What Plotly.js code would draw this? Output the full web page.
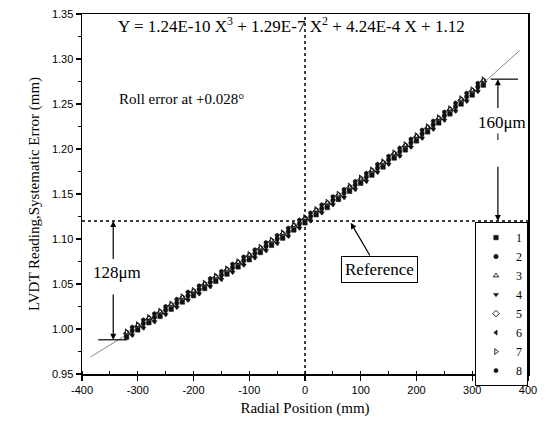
<!DOCTYPE html>
<html>
<head>
<meta charset="utf-8">
<script src="https://cdn.plot.ly/plotly-3.0.1.min.js"></script>
<style>html,body{margin:0;padding:0;background:#fff;}#chart{width:546px;height:432px;}</style>
</head>
<body>
<div id="chart"></div>
<script>
// Radial positions (mm): odd runs and even runs were sampled at interleaved positions
const radialPosA = [-320,-300,-280,-260,-240,-220,-200,-180,-160,-140,-120,-100,-80,-60,-40,-20,0,20,40,60,80,100,120,140,160,180,200,220,240,260,280,300,320];
const radialPosB = [-310,-290,-270,-250,-230,-210,-190,-170,-150,-130,-110,-90,-70,-50,-30,-10,10,30,50,70,90,110,130,150,170,190,210,230,250,270,290,310];

// LVDT readings (mm) for runs 1..8
const run1 = [0.991,0.999,1.007,1.014,1.022,1.030,1.037,1.045,1.053,1.061,1.069,1.077,1.085,1.093,1.101,1.110,1.118,1.127,1.135,1.144,1.153,1.162,1.171,1.180,1.190,1.199,1.209,1.219,1.229,1.239,1.250,1.260,1.271];
const run2 = [0.998,1.006,1.013,1.021,1.029,1.037,1.044,1.052,1.060,1.068,1.076,1.084,1.092,1.100,1.108,1.117,1.125,1.134,1.143,1.151,1.160,1.169,1.179,1.188,1.197,1.207,1.217,1.227,1.237,1.247,1.258,1.269];
const run3 = [0.996,1.004,1.012,1.019,1.027,1.035,1.042,1.050,1.058,1.066,1.074,1.082,1.090,1.098,1.106,1.115,1.123,1.132,1.140,1.149,1.157,1.166,1.176,1.185,1.195,1.204,1.214,1.224,1.234,1.244,1.255,1.265,1.276];
const run4 = [0.993,1.001,1.008,1.016,1.024,1.032,1.039,1.047,1.055,1.063,1.071,1.079,1.087,1.095,1.103,1.112,1.120,1.129,1.138,1.146,1.155,1.164,1.174,1.183,1.192,1.202,1.212,1.222,1.232,1.242,1.253,1.264];
const run5 = [0.995,1.003,1.011,1.018,1.026,1.034,1.041,1.049,1.057,1.065,1.073,1.081,1.089,1.097,1.105,1.114,1.122,1.131,1.139,1.148,1.157,1.166,1.175,1.184,1.194,1.203,1.213,1.223,1.233,1.243,1.254,1.264,1.275];
const run6 = [0.994,1.002,1.009,1.017,1.025,1.033,1.040,1.048,1.056,1.064,1.072,1.080,1.088,1.096,1.104,1.113,1.121,1.130,1.139,1.147,1.156,1.165,1.175,1.184,1.193,1.203,1.213,1.223,1.233,1.243,1.254,1.265];
const run7 = [0.997,1.005,1.013,1.020,1.028,1.036,1.043,1.051,1.059,1.067,1.075,1.083,1.091,1.099,1.107,1.116,1.124,1.133,1.141,1.150,1.159,1.168,1.177,1.186,1.196,1.205,1.215,1.225,1.235,1.245,1.256,1.266,1.277];
const run8 = [1.002,1.010,1.017,1.025,1.033,1.041,1.048,1.056,1.064,1.072,1.080,1.088,1.096,1.104,1.112,1.121,1.129,1.138,1.147,1.155,1.164,1.173,1.183,1.192,1.201,1.211,1.221,1.231,1.241,1.251,1.262,1.273];

const runNames = ["1","2","3","4","5","6","7","8"];
const runSymbols = ["square","circle","triangle-up-open","triangle-down","diamond-open","triangle-left","triangle-right-open","hexagon"];

// Fitted polynomial curve points (mm)
const fitX = [-385,-300,-200,-100,0,100,200,300,385];
const fitY = [0.9688,1.0011,1.0394,1.0788,1.1200,1.1638,1.2110,1.2622,1.3094];

const xTicks = [-400,-300,-200,-100,0,100,200,300,400];
const yTicks = [0.95,1.00,1.05,1.10,1.15,1.20,1.25,1.30,1.35];

const serif = "Liberation Serif, Times New Roman, serif";
const sans = "Liberation Sans, Arial, sans-serif";

const runs = [run1,run2,run3,run4,run5,run6,run7,run8];
const runPos = [radialPosA,radialPosB,radialPosA,radialPosB,radialPosA,radialPosB,radialPosA,radialPosB];
const traces = [{
  x: fitX, y: fitY, mode: "lines", showlegend: false, hoverinfo: "skip",
  line: {color: "#888", width: 1}
}];
runs.forEach((r, i) => {
  const open = runSymbols[i].indexOf("open") >= 0;
  traces.push({
    x: runPos[i], y: r, name: runNames[i], mode: "markers", type: "scatter",
    marker: {symbol: runSymbols[i], size: open ? 5 : 4.5, color: "#111", line: {color: "#111", width: open ? 0.9 : 0.5}}
  });
});

const refY = 1.12;
const layout = {
  width: 546, height: 432,
  margin: {l: 82, r: 18, t: 14, b: 58},
  paper_bgcolor: "#fff", plot_bgcolor: "#fff",
  showlegend: true,
  legend: {
    x: 1, xanchor: "right", y: 0.422, yanchor: "top",
    bgcolor: "#fff", bordercolor: "#000", borderwidth: 1,
    font: {family: serif, size: 12, color: "#000"},
    tracegroupgap: 0, itemwidth: 30
  },
  xaxis: {
    range: [-400, 400], tickvals: xTicks, ticktext: xTicks.map(String),
    showgrid: false, zeroline: false,
    showline: true, linecolor: "#000", linewidth: 1.5, mirror: true,
    ticks: "outside", ticklen: 5, tickwidth: 1.2, tickcolor: "#000",
    minor: {dtick: 50, ticks: "inside", ticklen: 3, tickcolor: "#000", tickwidth: 1, showgrid: false},
    tickfont: {family: sans, size: 11, color: "#000"},
    title: {text: "Radial Position (mm)", font: {family: serif, size: 15, color: "#000"}, standoff: 8}
  },
  yaxis: {
    range: [0.95, 1.35], tickvals: yTicks, ticktext: yTicks.map(v => v.toFixed(2)),
    showgrid: false, zeroline: false,
    showline: true, linecolor: "#000", linewidth: 1.5, mirror: true,
    ticks: "outside", ticklen: 5, tickwidth: 1.2, tickcolor: "#000",
    minor: {dtick: 0.025, ticks: "outside", ticklen: 3, tickcolor: "#000", tickwidth: 1, showgrid: false},
    tickfont: {family: sans, size: 11, color: "#000"},
    title: {text: "LVDT Reading,Systematic Error (mm)", font: {family: serif, size: 15, color: "#000"}, standoff: 8}
  },
  shapes: [
    {type: "line", xref: "x", yref: "y", x0: 0, x1: 0, y0: 0.95, y1: 1.35, line: {color: "#000", width: 1.5, dash: "dot"}, layer: "below"},
    {type: "line", xref: "x", yref: "y", x0: -400, x1: 400, y0: refY, y1: refY, line: {color: "#000", width: 1.5, dash: "dot"}, layer: "below"},
    {type: "line", xref: "x", yref: "y", x0: -371, x1: -319, y0: 0.988, y1: 0.988, line: {color: "#000", width: 1.2}},
    {type: "line", xref: "x", yref: "y", x0: 333, x1: 382, y0: 1.2776, y1: 1.2776, line: {color: "#000", width: 1.2}},
    {type: "line", xref: "x", yref: "y", x0: 346, x1: 346, y0: 1.210, y1: 1.218, line: {color: "#000", width: 1}}
  ],
  annotations: [
    {xref: "x", yref: "y", x: -25, y: 1.338, showarrow: false,
     text: "Y = 1.24E-10 X<sup>3</sup> + 1.29E-7 X<sup>2</sup> + 4.24E-4 X + 1.12",
     font: {family: serif, size: 17, color: "#000"}},
    {xref: "x", yref: "y", x: -222, y: 1.256, showarrow: false,
     text: "Roll error at +0.028°", font: {family: serif, size: 15, color: "#000"}},
    {xref: "x", yref: "y", x: 353, y: 1.230, showarrow: false, bgcolor: "#fff",
     text: "160μm", font: {family: serif, size: 17, color: "#000"}},
    {xref: "x", yref: "y", x: -337, y: 1.063, showarrow: false,
     text: "128μm", font: {family: serif, size: 17, color: "#000"}},
    {xref: "x", yref: "y", x: 134, y: 1.0656, showarrow: false,
     text: "Reference", font: {family: serif, size: 17, color: "#000"},
     bordercolor: "#000", borderwidth: 1, borderpad: 3, bgcolor: "#fff"},
    // arrows
    {xref: "x", yref: "y", axref: "x", ayref: "y", x: 82, y: 1.118, ax: 118, ay: 1.080, text: "",
     showarrow: true, arrowhead: 2, arrowsize: 1, arrowwidth: 1.2, arrowcolor: "#000", standoff: 0, startstandoff: 0},
    {xref: "x", yref: "y", axref: "x", ayref: "y", x: -344, y: 1.12, ax: -344, ay: 1.076, text: "",
     showarrow: true, arrowhead: 2, arrowsize: 1, arrowwidth: 1.2, arrowcolor: "#000"},
    {xref: "x", yref: "y", axref: "x", ayref: "y", x: -344, y: 0.988, ax: -344, ay: 1.040, text: "",
     showarrow: true, arrowhead: 2, arrowsize: 1, arrowwidth: 1.2, arrowcolor: "#000"},
    {xref: "x", yref: "y", axref: "x", ayref: "y", x: 346, y: 1.2776, ax: 346, ay: 1.244, text: "",
     showarrow: true, arrowhead: 2, arrowsize: 1, arrowwidth: 1.2, arrowcolor: "#000"},
    {xref: "x", yref: "y", axref: "x", ayref: "y", x: 346, y: 1.12, ax: 346, ay: 1.182, text: "",
     showarrow: true, arrowhead: 2, arrowsize: 1, arrowwidth: 1.2, arrowcolor: "#000"}
  ]
};

Plotly.newPlot("chart", traces, layout, {displayModeBar: false, staticPlot: true});
</script>
</body>
</html>
